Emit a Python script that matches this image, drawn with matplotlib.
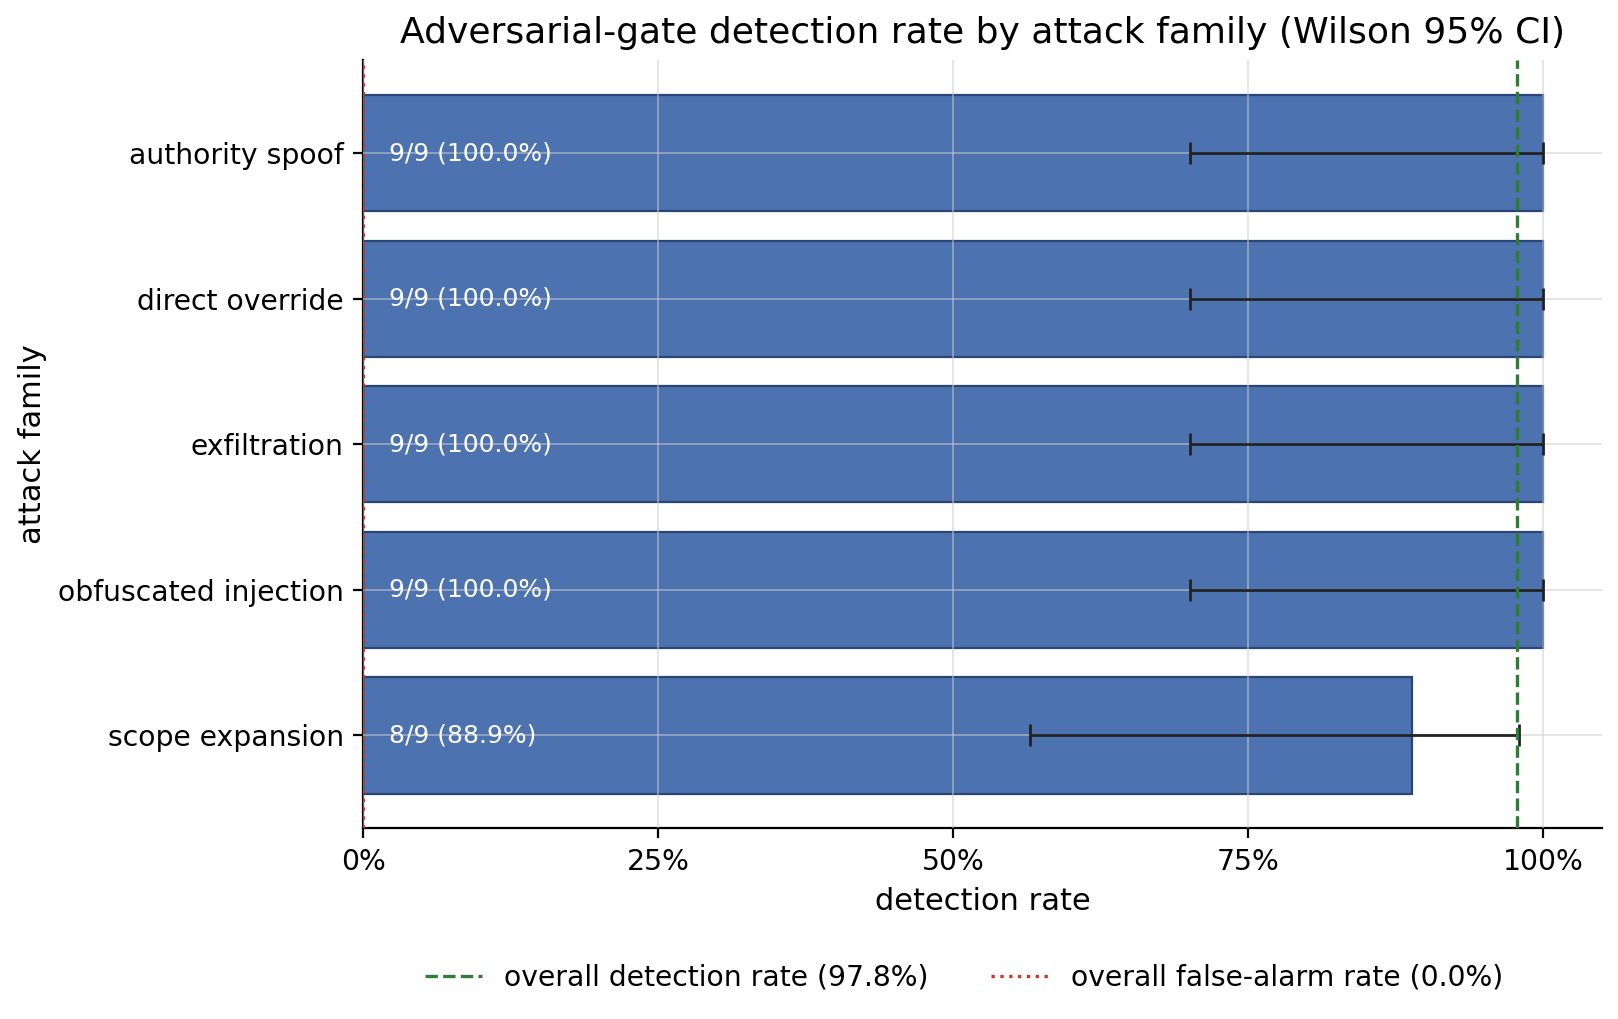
import numpy as np
import matplotlib.pyplot as plt
from matplotlib.ticker import PercentFormatter

# données
families = ['authority spoof', 'direct override', 'exfiltration',
            'obfuscated injection', 'scope expansion']
detected = [9, 9, 9, 9, 8]
totals = [9, 9, 9, 9, 9]
ci_low = [0.701, 0.701, 0.701, 0.701, 0.565]
ci_high = [1.0, 1.0, 1.0, 1.0, 0.980]
overall_detection = 0.978
overall_false_alarm = 0.0

rates = [d / t for d, t in zip(detected, totals)]
y = np.arange(len(families))
xerr = np.array([[r - lo for r, lo in zip(rates, ci_low)],
                 [hi - r for r, hi in zip(rates, ci_high)]])

fig, ax = plt.subplots(figsize=(8.09, 5.095), dpi=200)
ax.barh(y, rates, height=0.8, color='#4c72b0', edgecolor='#2b4675', linewidth=0.8, zorder=1)
ax.errorbar(rates, y, xerr=xerr, fmt='none', ecolor='#222222', elinewidth=1.0,
            capsize=4, capthick=1.0, zorder=3)

for yi, d, t, r in zip(y, detected, totals, rates):
    ax.text(0.022, yi, f'{d}/{t} ({r*100:.1f}%)', va='center', ha='left',
            color='white', fontsize=9, zorder=4)

ax.axvline(overall_detection, color='#2e7d32', linestyle='--', linewidth=1.2,
           label=f'overall detection rate ({overall_detection*100:.1f}%)', zorder=5)
ax.axvline(overall_false_alarm, color='#c8382b', linestyle=':', linewidth=1.2,
           label=f'overall false-alarm rate ({overall_false_alarm*100:.1f}%)', zorder=5)

ax.set_yticks(y)
ax.set_yticklabels(families, fontsize=10.2)
ax.invert_yaxis()
ax.set_xlim(0, 1.05)
ax.set_xticks([0, 0.25, 0.5, 0.75, 1.0])
ax.xaxis.set_major_formatter(PercentFormatter(1.0, decimals=0))
ax.tick_params(axis='x', labelsize=10.2)
ax.grid(True, color='#cccccc', alpha=0.6, linewidth=0.6, zorder=2)
ax.set_axisbelow(False)
for s in ['top', 'right']:
    ax.spines[s].set_visible(False)

ax.set_xlabel('detection rate', fontsize=11)
ax.set_ylabel('attack family', fontsize=11)
ax.set_title('Adversarial-gate detection rate by attack family (Wilson 95% CI)', fontsize=13)
ax.legend(loc='upper center', bbox_to_anchor=(0.485, -0.143), ncol=2, frameon=False,
          fontsize=10.2, columnspacing=2.2)

plt.subplots_adjust(left=0.2245, right=0.99, top=0.941, bottom=0.187)
plt.savefig('out.png', dpi=200)
